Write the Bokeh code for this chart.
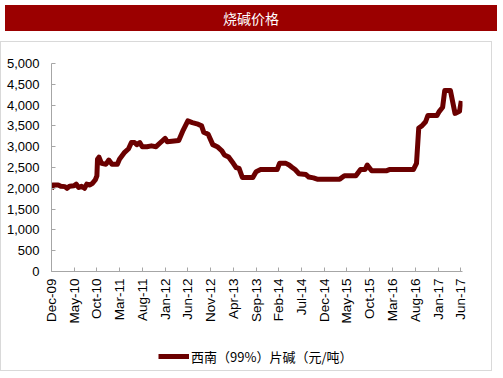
import pandas as pd
from bokeh.plotting import figure
from bokeh.models import (Range1d, FixedTicker, DatetimeTickFormatter, NumeralTickFormatter,
                          Legend, ColumnDataSource, Div)
from bokeh.layouts import column
from bokeh.embed import file_html
from bokeh.resources import INLINE
from math import pi

title_text = "烧碱价格"
series_name = "西南（99%）片碱（元/吨）"

dates = [
    "2009-12-01", "2009-12-10", "2010-01-15", "2010-02-01", "2010-03-01", "2010-03-15",
    "2010-04-01", "2010-05-01", "2010-05-15", "2010-06-01", "2010-06-20", "2010-07-10",
    "2010-07-25", "2010-08-15", "2010-09-01", "2010-09-20", "2010-10-01", "2010-10-05",
    "2010-10-15", "2010-11-01", "2010-12-01", "2010-12-20", "2011-01-10", "2011-02-15",
    "2011-03-01", "2011-04-01", "2011-05-01", "2011-05-20", "2011-06-10", "2011-06-25",
    "2011-07-15", "2011-08-01", "2011-09-01", "2011-10-01", "2011-11-01", "2011-12-01",
    "2012-01-01", "2012-01-15", "2012-04-01", "2012-05-01", "2012-06-01", "2012-07-01",
    "2012-08-01", "2012-09-01", "2012-09-15", "2012-10-15", "2012-11-15", "2012-12-15",
    "2013-01-15", "2013-02-01", "2013-03-01", "2013-04-01", "2013-04-20", "2013-05-10",
    "2013-06-01", "2013-08-10", "2013-09-01", "2013-10-01", "2014-01-20", "2014-02-05",
    "2014-03-20", "2014-04-10", "2014-05-01", "2014-05-20", "2014-06-15", "2014-08-01",
    "2014-08-20", "2014-09-20", "2014-10-15", "2015-03-15", "2015-04-15", "2015-07-01",
    "2015-08-01", "2015-09-01", "2015-09-15", "2015-10-15", "2016-01-20", "2016-02-10",
    "2016-07-20", "2016-08-10", "2016-08-25", "2016-09-15", "2016-10-10", "2016-10-25",
    "2016-12-25", "2017-01-10", "2017-02-01", "2017-02-15", "2017-03-25", "2017-04-25",
    "2017-05-25", "2017-06-06",
]
prices = [
    1980, 2080, 2080, 2050, 2040, 2000,
    2050, 2060, 2100, 2020, 2050, 2000,
    2100, 2080, 2120, 2200, 2300, 2700,
    2750, 2600, 2580, 2680, 2580, 2580,
    2700, 2850, 2950, 3100, 3100, 3050,
    3100, 3000, 3000, 3020, 3000, 3100,
    3200, 3120, 3150, 3400, 3620, 3580,
    3550, 3500, 3350, 3300, 3050, 3000,
    2900, 2800, 2750, 2600, 2500, 2480,
    2260, 2260, 2400, 2450, 2450, 2600,
    2600, 2560, 2500, 2450, 2350, 2330,
    2270, 2250, 2220, 2220, 2300, 2300,
    2450, 2450, 2560, 2420, 2420, 2450,
    2450, 2600, 3450, 3500, 3600, 3750,
    3750, 3850, 3950, 4350, 4350, 3800,
    3850, 4100,
]

x_tick_labels = ["Dec-09", "May-10", "Oct-10", "Mar-11", "Aug-11", "Jan-12", "Jun-12",
                 "Nov-12", "Apr-13", "Sep-13", "Feb-14", "Jul-14", "Dec-14", "May-15",
                 "Oct-15", "Mar-16", "Aug-16", "Jan-17", "Jun-17"]
y_ticks = [0, 500, 1000, 1500, 2000, 2500, 3000, 3500, 4000, 4500, 5000]

LINE_COLOR = "#6B0000"
LINE_WIDTH = 5
BORDER = "#d9d9d9"

src = ColumnDataSource(dict(x=pd.to_datetime(dates), y=prices))

def ms(s):
    return pd.Timestamp(s).value / 1e6

x_tick_pos = [pd.to_datetime(l, format="%b-%y").value / 1e6 for l in x_tick_labels]

p = figure(width=492, height=300, x_axis_type="datetime",
           x_range=Range1d(ms("2009-12-01"), ms("2017-06-14")),
           y_range=Range1d(0, 5000),
           output_backend="svg", toolbar_location=None,
           min_border_left=51, min_border_right=30, min_border_top=22, min_border_bottom=70,
           styles={"box-shadow": f"inset 1px 1px 0 {BORDER}, inset -1px 0 0 {BORDER}"})
p.outline_line_color = None
p.grid.visible = False
p.background_fill_color = None
p.border_fill_color = None

p.line("x", "y", source=src, line_color=LINE_COLOR, line_width=LINE_WIDTH, line_join="round")

xa = p.xaxis[0]
xa.ticker = FixedTicker(ticks=x_tick_pos)
xa.formatter = DatetimeTickFormatter(days="%b-%y", months="%b-%y", years="%b-%y")
xa.major_label_orientation = pi / 2
xa.major_tick_in = 4
xa.major_tick_out = 0
xa.minor_tick_line_color = None
xa.axis_line_color = "#a6a6a6"
xa.major_tick_line_color = "#a6a6a6"
xa.major_label_text_font = "Liberation Sans"
xa.major_label_text_font_size = "13.5px"
xa.major_label_text_color = "#000000"
xa.major_label_standoff = 7

ya = p.yaxis[0]
ya.ticker = FixedTicker(ticks=y_ticks)
ya.formatter = NumeralTickFormatter(format="0,0")
ya.major_tick_in = 4
ya.major_tick_out = 0
ya.minor_tick_line_color = None
ya.axis_line_color = "#a6a6a6"
ya.major_tick_line_color = "#a6a6a6"
ya.major_label_text_font = "Liberation Sans"
ya.major_label_text_font_size = "13px"
ya.major_label_text_color = "#000000"
ya.major_label_standoff = 12

# legend strip below the chart (its sample line lies outside the strip's visible range)
lf = figure(width=492, height=30, x_range=Range1d(0, 1), y_range=Range1d(0, 1),
            output_backend="svg", toolbar_location=None,
            x_axis_location=None, y_axis_location=None,
            min_border_left=0, min_border_right=0, min_border_top=0, min_border_bottom=0,
            styles={"box-shadow": f"inset 1px -1px 0 {BORDER}, inset -1px 0 0 {BORDER}"})
lf.outline_line_color = None
lf.grid.visible = False
lf.border_fill_color = None
lf.background_fill_color = None
lr = lf.line(x=[5, 6], y=[5, 6], line_color=LINE_COLOR, line_width=LINE_WIDTH)
legend = Legend(items=[(series_name, [lr])], location=(107, 5), orientation="horizontal",
                border_line_color=None, background_fill_alpha=0,
                label_text_font="Noto Sans CJK SC", label_text_font_size="13px",
                label_text_color="#000000", glyph_width=31,
                label_standoff=2, margin=0, padding=4)
lf.add_layout(legend)

div = Div(text=title_text, width=492, height=26,
          styles={"background-color": "#9B0000", "color": "white", "text-align": "center",
                  "font-size": "14px", "line-height": "26px",
                  "font-family": "Noto Sans CJK SC"})

layout = column(div, column(p, lf, spacing=0), spacing=5)

open("out.html", "w").write(file_html(layout, INLINE))
